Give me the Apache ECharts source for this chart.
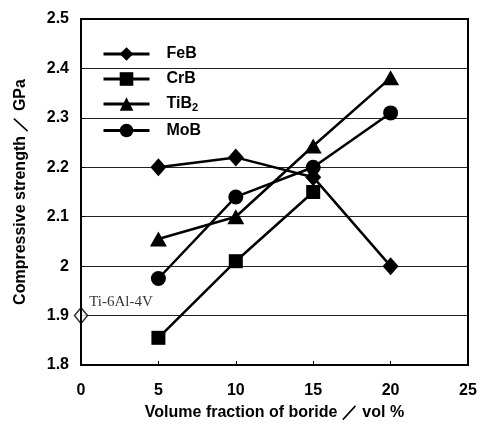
<!DOCTYPE html>
<html><head><meta charset="utf-8">
<script src="https://cdn.jsdelivr.net/npm/echarts@6/dist/echarts.min.js"></script>
<style>html,body{margin:0;padding:0;background:#fff}#c{width:485px;height:427px}</style>
</head><body><div id="c"></div>
<script>
var xTicks = [0, 5, 10, 15, 20, 25];
var yTicks = [1.8, 1.9, 2.0, 2.1, 2.2, 2.3, 2.4, 2.5];
var FeB = [[5, 2.20], [10, 2.22], [15, 2.18], [20, 2.00]];
var CrB = [[5, 1.855], [10, 2.01], [15, 2.15]];
var TiB2 = [[5, 2.055], [10, 2.10], [15, 2.243], [20, 2.381]];
var MoB = [[5, 1.975], [10, 2.14], [15, 2.20], [20, 2.31]];
var base = [[0, 1.90]];
var baseName = 'Ti-6Al-4V';
var names = ['FeB', 'CrB', 'TiB2', 'MoB'];

var chart = echarts.init(document.getElementById('c'));
var lineBase = {type: 'line', lineStyle: {color: '#000', width: 2.5}, itemStyle: {color: '#000'}, z: 3};
function mk(name, data, symbol, size) {
  return Object.assign({}, lineBase, {name: name, data: data, symbol: symbol, symbolSize: size});
}
chart.setOption({
  animation: false,
  grid: {left: 81, right: 17, top: 19, bottom: 62},
  xAxis: {
    type: 'value', min: 0, max: 25, interval: 5,
    axisLine: {lineStyle: {color: '#000', width: 2}},
    axisTick: {show: true, inside: true, length: 4, lineStyle: {color: '#000'}},
    splitLine: {show: false},
    axisLabel: {color: '#000', fontFamily: 'Liberation Sans', fontWeight: 'bold', fontSize: 16, margin: 18},
    name: 'Volume fraction of boride ／ vol %', nameLocation: 'middle', nameGap: 40,
    nameTextStyle: {color: '#000', fontFamily: 'Liberation Sans', fontWeight: 'bold', fontSize: 16}
  },
  yAxis: {
    type: 'value', min: 1.8, max: 2.5, interval: 0.1,
    axisLine: {show: true, lineStyle: {color: '#000', width: 2}},
    axisTick: {show: true, inside: true, length: 4, lineStyle: {color: '#000'}},
    splitLine: {show: true, lineStyle: {color: '#222', width: 1}},
    axisLabel: {color: '#000', fontFamily: 'Liberation Sans', fontWeight: 'bold', fontSize: 16, margin: 12,
      formatter: function(v){ return (Math.round(v*10)/10).toString(); }},
    name: 'Compressive strength ／ GPa', nameLocation: 'middle', nameGap: 52,
    nameTextStyle: {color: '#000', fontFamily: 'Liberation Sans', fontWeight: 'bold', fontSize: 16}
  },
  legend: {
    orient: 'vertical', left: 97, top: 41, itemWidth: 46, itemHeight: 17, itemGap: 9,
    lineStyle: {width: 3, color: '#000'},
    textStyle: {color: '#000', fontFamily: 'Liberation Sans', fontWeight: 'bold', fontSize: 16, padding: [0,0,0,12],
      rich: {n: {fontFamily: 'Liberation Sans', fontWeight: 'bold', fontSize: 16, color: '#000'},
             s: {fontFamily: 'Liberation Sans', fontWeight: 'bold', fontSize: 11, color: '#000', verticalAlign: 'bottom', padding: [8,0,0,0]}}},
    formatter: function(n){ return n === 'TiB2' ? '{n|TiB}{s|2}' : '{n|' + n + '}'; },
    data: names.map(function(n){ return {name: n, lineStyle: {width: 3, color: '#000'}}; })
  },
  series: [
    mk('FeB', FeB, 'diamond', [16, 18]),
    mk('CrB', CrB, 'rect', 14),
    mk('TiB2', TiB2, 'triangle', [17, 15]),
    mk('MoB', MoB, 'circle', 15),
    {type: 'scatter', name: baseName, data: base, symbol: 'diamond', symbolSize: [13, 16],
      itemStyle: {color: '#fff', borderColor: '#000', borderWidth: 1.5}, z: 4,
      label: {show: true, formatter: baseName, position: 'right', offset: [-4, -14],
        fontFamily: 'Liberation Serif', fontSize: 15, color: '#000', textBorderWidth: 0}}
  ]
});
chart.setOption({graphic: [{type: 'rect', shape: {x: 81, y: 19, width: 387, height: 346}, style: {fill: 'none', stroke: '#000', lineWidth: 2}, z: 10}]});
</script></body></html>
